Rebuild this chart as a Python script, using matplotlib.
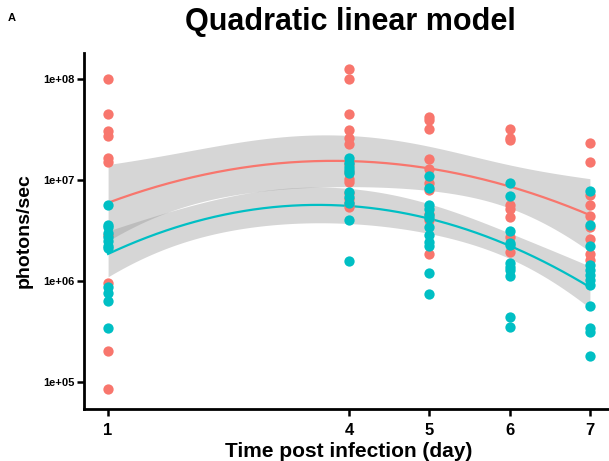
import numpy as np
import matplotlib
matplotlib.use("Agg")
import matplotlib.pyplot as plt
from matplotlib.ticker import FixedLocator, FixedFormatter, NullLocator

plt.rcParams['font.family'] = ['Liberation Sans', 'DejaVu Sans']

# ---- data (photons/sec) ----
red_day = [1]*10 + [4]*14 + [5]*10 + [6]*8 + [7]*9
red_val = [1.0e8, 4.5e7, 3.05e7, 2.7e7, 1.66e7, 1.5e7, 2.85e6, 9.5e5, 2.0e5, 8.4e4,
           1.25e8, 1.0e8, 4.5e7, 3.1e7, 2.6e7, 2.25e7, 1.45e7, 1.2e7, 1.03e7, 9.6e6,
           7.5e6, 6.5e6, 5.9e6, 5.4e6,
           4.25e7, 3.9e7, 3.2e7, 1.6e7, 1.28e7, 9.3e6, 7.9e6, 4.6e6, 4.0e6, 1.85e6,
           3.2e7, 2.6e7, 2.5e7, 5.6e6, 5.2e6, 4.3e6, 2.75e6, 1.95e6,
           2.3e7, 1.5e7, 7.1e6, 5.7e6, 4.4e6, 3.4e6, 2.6e6, 1.85e6, 1.6e6]

teal_day = [1]*12 + [4]*10 + [5]*12 + [6]*11 + [7]*12
teal_val = [5.7e6, 3.55e6, 3.45e6, 3.0e6, 2.75e6, 2.5e6, 2.2e6, 2.1e6, 8.6e5, 7.5e5, 6.3e5, 3.4e5,
            1.66e7, 1.46e7, 1.35e7, 1.25e7, 1.18e7, 7.6e6, 6.8e6, 5.9e6, 4.0e6, 1.58e6,
            1.1e7, 8.3e6, 5.7e6, 5.1e6, 4.5e6, 4.15e6, 3.4e6, 2.85e6, 2.45e6, 2.2e6, 1.2e6, 7.4e5,
            9.3e6, 6.9e6, 3.15e6, 2.35e6, 2.25e6, 1.5e6, 1.37e6, 1.28e6, 1.12e6, 4.4e5, 3.5e5,
            7.7e6, 3.6e6, 2.2e6, 1.43e6, 1.28e6, 1.15e6, 1.02e6, 9.2e5, 5.6e5, 3.4e5, 3.1e5, 1.8e5]

x_ticks = [1, 4, 5, 6, 7]
y_ticks = [1e5, 1e6, 1e7, 1e8]
y_tick_labels = ["1e+05", "1e+06", "1e+07", "1e+08"]

RED = "#F8766D"
TEAL = "#00BFC4"


def quad_fit(x, y, xs):
    x = np.asarray(x, float)
    ly = np.log10(np.asarray(y, float))
    X = np.column_stack([np.ones_like(x), x, x**2])
    beta, *_ = np.linalg.lstsq(X, ly, rcond=None)
    resid = ly - X @ beta
    n, p = X.shape
    df = n - p
    s2 = resid @ resid / df
    cov = s2 * np.linalg.inv(X.T @ X)
    Xs = np.column_stack([np.ones_like(xs), xs, xs**2])
    pred = Xs @ beta
    se = np.sqrt(np.einsum('ij,jk,ik->i', Xs, cov, Xs))
    z = 1.959964
    t = z + (z**3 + z) / (4 * df) + (5*z**5 + 16*z**3 + 3*z) / (96 * df**2)
    return 10**pred, 10**(pred - t*se), 10**(pred + t*se)


W, H = 609, 461
fig = plt.figure(figsize=(W/100, H/100), dpi=100)
left, right, bottom, top = 84, 614, 409, 52.8
ax = fig.add_axes([left/W, 1 - bottom/H, (right-left)/W, (bottom-top)/H])

xs = np.linspace(1, 7, 200)
for d, v, c in [(red_day, red_val, RED), (teal_day, teal_val, TEAL)]:
    m, lo, hi = quad_fit(d, v, xs)
    ax.fill_between(xs, lo, hi, color="#999999", alpha=0.4, linewidth=0, zorder=1)
    ax.plot(xs, m, color=c, lw=1.6, zorder=2)

ax.scatter(red_day, red_val, s=55, color=RED, linewidths=0, zorder=3)
ax.scatter(teal_day, teal_val, s=55, color=TEAL, linewidths=0, zorder=4)

ax.set_yscale('log')
ax.set_xlim(0.7, 7.3)
ax.set_ylim(10**4.73, 10**8.26)
ax.yaxis.set_major_locator(FixedLocator(y_ticks))
ax.yaxis.set_major_formatter(FixedFormatter(y_tick_labels))
ax.yaxis.set_minor_locator(NullLocator())
ax.set_xticks(x_ticks)
ax.set_xticklabels([str(t) for t in x_ticks])

for s in ['top', 'right']:
    ax.spines[s].set_visible(False)
for s in ['left', 'bottom']:
    ax.spines[s].set_linewidth(2)
    ax.spines[s].set_color('black')
ax.tick_params(axis='both', width=1.8, length=5, color='black')
for lab in ax.get_yticklabels():
    lab.set_fontsize(8); lab.set_fontweight('bold')
for lab in ax.get_xticklabels():
    lab.set_fontsize(12); lab.set_fontweight('bold')
ax.tick_params(axis='x', pad=5)
ax.tick_params(axis='y', pad=2)

ax.set_xlabel("Time post infection (day)", fontsize=15, fontweight='bold', labelpad=3)
ax.set_ylabel("photons/sec", fontsize=14, fontweight='bold', labelpad=7)

fig.text(350/W, 1 - 22/H, "Quadratic linear model", ha='center', va='center',
         fontsize=22, fontweight='bold')
fig.text(12/W, 1 - 18/H, "A", ha='center', va='center', fontsize=8, fontweight='bold')

fig.savefig("out.png", dpi=100)
